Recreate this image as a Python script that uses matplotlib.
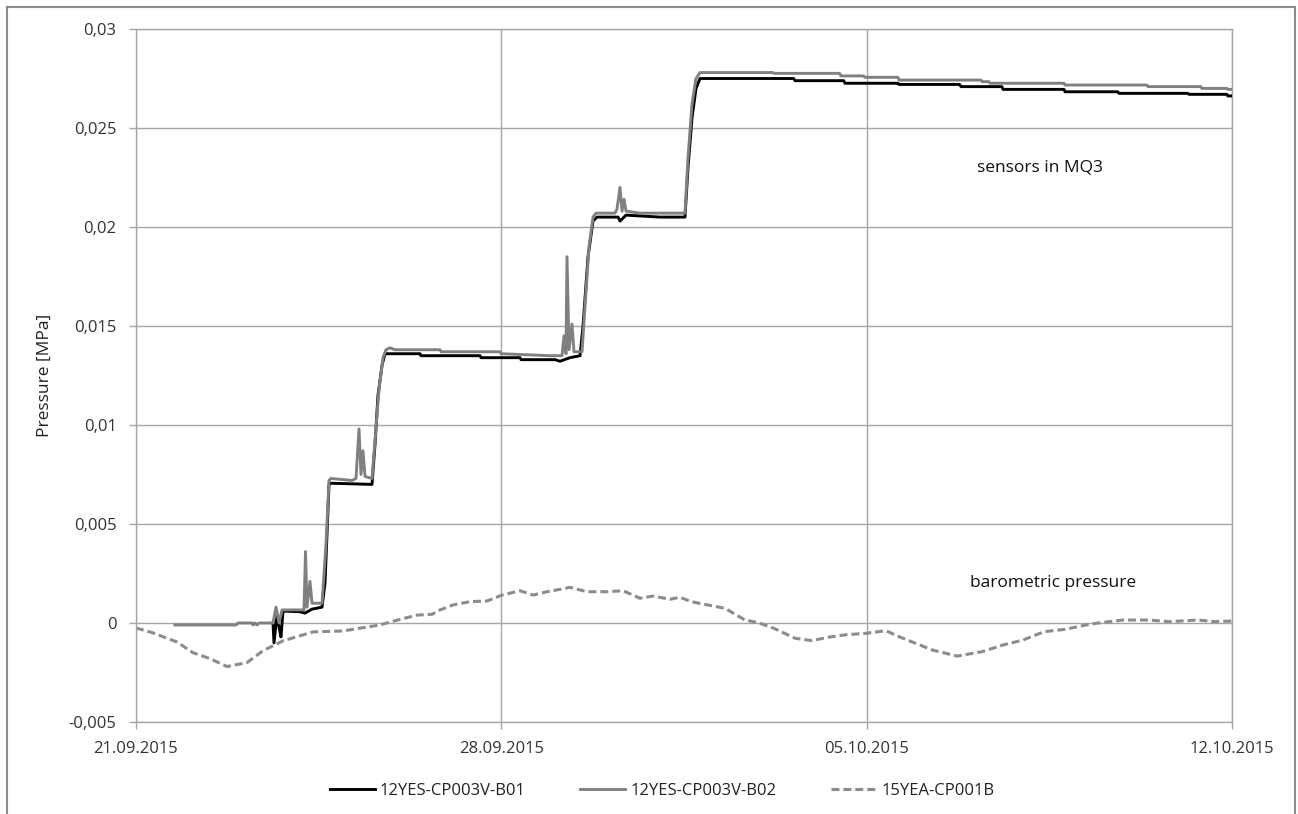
import numpy as np
import pandas as pd
import matplotlib
matplotlib.use("Agg")
import matplotlib.pyplot as plt
import matplotlib.dates as mdates
from matplotlib.patches import Rectangle

plt.rcParams['font.family'] = ['Open Sans', 'DejaVu Sans']

# ---------------- data (days since 21.09.2015, pressure in MPa) ----------------
start_date = "2015-09-21"

b01_days = [2.625, 2.644, 2.702, 2.740, 2.778, 2.817, 3.142, 3.238, 3.372, 3.487,
            3.564, 3.621, 3.660, 3.698, 3.736, 4.522, 4.579, 4.637, 4.713, 4.771,
            5.442, 5.460, 6.591, 6.610, 7.358, 7.377, 8.028, 8.124, 8.316, 8.508,
            8.565, 8.661, 8.757, 8.833, 9.236, 9.274, 9.389, 10.040, 10.519, 10.577,
            10.653, 10.730, 10.807, 12.600, 12.627, 13.560, 13.585, 14.600, 14.620, 15.780,
            15.808, 16.590, 16.613, 17.780, 17.801, 18.810, 18.835, 20.150, 20.177, 20.900,
            20.920, 21.000]
b01_vals = [0.0000, -0.0010, 0.0004, -0.0002, -0.0007, 0.0006, 0.00057, 0.0005, 0.0007, 0.00076,
            0.0008, 0.0020, 0.0045, 0.0070, 0.00706, 0.0070, 0.0090, 0.0115, 0.0130, 0.0136,
            0.0136, 0.0135, 0.0135, 0.0134, 0.0134, 0.0133, 0.0133, 0.01322, 0.0134, 0.0135,
            0.0150, 0.0185, 0.0203, 0.0205, 0.0205, 0.0203, 0.0206, 0.0205, 0.0205, 0.0230,
            0.0255, 0.0270, 0.0275, 0.0275, 0.02739, 0.02739, 0.02726, 0.02726, 0.0272, 0.0272,
            0.02709, 0.02709, 0.02695, 0.02695, 0.02683, 0.02683, 0.02675, 0.02675, 0.0267, 0.0267,
            0.02662, 0.02662]

b02_days = [0.747, 1.916, 1.954, 2.223, 2.242, 2.280, 2.318, 2.357, 2.625, 2.683,
            2.740, 2.798, 3.219, 3.248, 3.276, 3.334, 3.372, 3.564, 3.641, 3.698,
            3.736, 4.139, 4.215, 4.273, 4.311, 4.349, 4.388, 4.522, 4.579, 4.656,
            4.733, 4.790, 4.867, 4.963, 5.825, 5.845, 6.975, 6.995, 7.933, 8.162,
            8.201, 8.239, 8.258, 8.297, 8.354, 8.392, 8.546, 8.603, 8.680, 8.757,
            8.814, 9.178, 9.216, 9.274, 9.312, 9.350, 9.389, 9.657, 10.519, 10.577,
            10.653, 10.730, 10.807, 12.200, 12.225, 13.480, 13.508, 13.940, 13.968, 14.600,
            14.620, 16.190, 16.210, 16.340, 16.363, 17.780, 17.801, 19.370, 19.391, 20.400,
            20.425, 20.900, 20.920, 21.000]
b02_vals = [-0.0001, -0.0001, 0.0000, 0.0000, -0.0001, 0.0000, -0.0001, 0.0000, 0.0000, 0.0008,
            0.0000, 0.00066, 0.00066, 0.0036, 0.0008, 0.0021, 0.0010, 0.0010, 0.0040, 0.0072,
            0.0073, 0.0072, 0.0073, 0.0098, 0.0075, 0.0087, 0.0074, 0.0073, 0.0092, 0.0118,
            0.0134, 0.0138, 0.0139, 0.0138, 0.0138, 0.0137, 0.0137, 0.0136, 0.0135, 0.0135,
            0.0145, 0.0136, 0.0185, 0.0138, 0.0151, 0.0137, 0.0137, 0.0160, 0.0190, 0.0205,
            0.0207, 0.0207, 0.0209, 0.0220, 0.0208, 0.0214, 0.0208, 0.0207, 0.0207, 0.0235,
            0.0262, 0.0275, 0.0278, 0.0278, 0.02776, 0.02776, 0.02763, 0.02763, 0.02756, 0.02756,
            0.02742, 0.02742, 0.02734, 0.02734, 0.02726, 0.02726, 0.02717, 0.02717, 0.02709, 0.02709,
            0.0270, 0.0270, 0.02695, 0.02695]

baro_days = [0.000, 0.326, 0.786, 1.092, 1.418, 1.744, 2.127, 2.433, 2.817, 3.391,
             3.966, 4.675, 4.867, 5.384, 5.672, 5.825, 6.074, 6.400, 6.726, 7.013,
             7.358, 7.607, 7.875, 8.124, 8.316, 8.642, 9.025, 9.332, 9.657, 9.906,
             10.232, 10.424, 10.634, 11.286, 11.669, 11.918, 12.225, 12.627, 12.953, 13.259,
             13.585, 13.987, 14.371, 14.620, 15.252, 15.731, 16.210, 16.613, 16.996, 17.398,
             17.801, 18.203, 18.433, 18.912, 19.391, 19.793, 20.349, 20.655, 21.000]
baro_vals = [-0.00025, -0.0005, -0.00096, -0.0015, -0.0018, -0.0022, -0.0020, -0.0014, -0.0009, -0.00045,
             -0.0004, -0.0001, 0.00005, 0.0004, 0.00044, 0.00066, 0.00091, 0.00108, 0.00111, 0.00141,
             0.00163, 0.00141, 0.00158, 0.0017, 0.0018, 0.00158, 0.00158, 0.00163, 0.00125, 0.00136,
             0.0012, 0.0013, 0.00108, 0.00074, 0.00015, 0.00002, -0.00027, -0.00077, -0.00089, -0.00072,
             -0.0006, -0.00052, -0.00039, -0.00069, -0.00136, -0.00167, -0.00145, -0.00111, -0.00086, -0.00044,
             -0.00032, -0.0001, 0.0, 0.00015, 0.00015, 0.00007, 0.00015, 0.00007, 0.0001]

series_names = ["12YES-CP003V-B01", "12YES-CP003V-B02", "15YEA-CP001B"]
x_tick_dates = ["2015-09-21", "2015-09-28", "2015-10-05", "2015-10-12"]
y_ticks = [-0.005, 0.0, 0.005, 0.01, 0.015, 0.02, 0.025, 0.03]
y_label = "Pressure [MPa]"
annot_sensors = "sensors in MQ3"
annot_baro = "barometric pressure"

# ---------------- plotting ----------------
t0 = pd.Timestamp(start_date)
def to_dates(days):
    return t0 + pd.to_timedelta(np.asarray(days), unit="D")

fig = plt.figure(figsize=(12.98, 8.14), dpi=100)
ax = fig.add_axes([136/1298, 1-722/814, (1232-136)/1298, (722-29)/814])

grid_c = '#a6a6a6'
ax.plot(to_dates(b01_days), b01_vals, color='#000000', lw=2.1,
        label=series_names[0], zorder=3)
ax.plot(to_dates(b02_days), b02_vals, color='#808080', lw=2.1,
        label=series_names[1], zorder=4)
ax.plot(to_dates(baro_days), baro_vals, color='#8c8c8c', lw=2.2, dashes=(2.6, 1.3),
        label=series_names[2], zorder=2)

xt = pd.to_datetime(x_tick_dates)
ax.set_xlim(xt[0], xt[-1])
ax.set_xticks(xt)
ax.xaxis.set_major_formatter(mdates.DateFormatter('%d.%m.%Y'))
ax.set_ylim(y_ticks[0], y_ticks[-1])
ax.set_yticks(y_ticks)
ax.set_yticklabels([('0' if abs(v) < 1e-12 else f"{v:g}".replace('.', ',')) for v in y_ticks])

ax.grid(True, color=grid_c, lw=1.0)
ax.set_axisbelow(True)
for s in ax.spines.values():
    s.set_color(grid_c)
    s.set_linewidth(1.0)
ax.tick_params(axis='both', direction='out', length=5, width=1.0, color=grid_c,
               labelsize=12, labelcolor='#333333', pad=9)

ax.set_ylabel(y_label, fontsize=12.5, color='#222222')
ax.yaxis.set_label_coords((53-136)/1096, 0.5)

ax.text(t0 + pd.Timedelta(days=17.32), 0.02298, annot_sensors, ha='center', va='center',
        fontsize=12.5, color='#111111')
ax.text(t0 + pd.Timedelta(days=17.57), 0.00202, annot_baro, ha='center', va='center',
        fontsize=12.5, color='#111111')

fig.legend(loc='center', bbox_to_anchor=(662/1298, 1-791/814), ncol=3, frameon=False,
           fontsize=12, handlelength=2.7, handletextpad=0.3, columnspacing=3.3,
           labelcolor='#222222')

fig.add_artist(Rectangle((7/1298, -0.05), (1295-7)/1298, (814-7)/814 + 0.05,
                         transform=fig.transFigure, fill=False, ec='#8a8a8a', lw=1.5))

fig.savefig("out.png", dpi=100)
